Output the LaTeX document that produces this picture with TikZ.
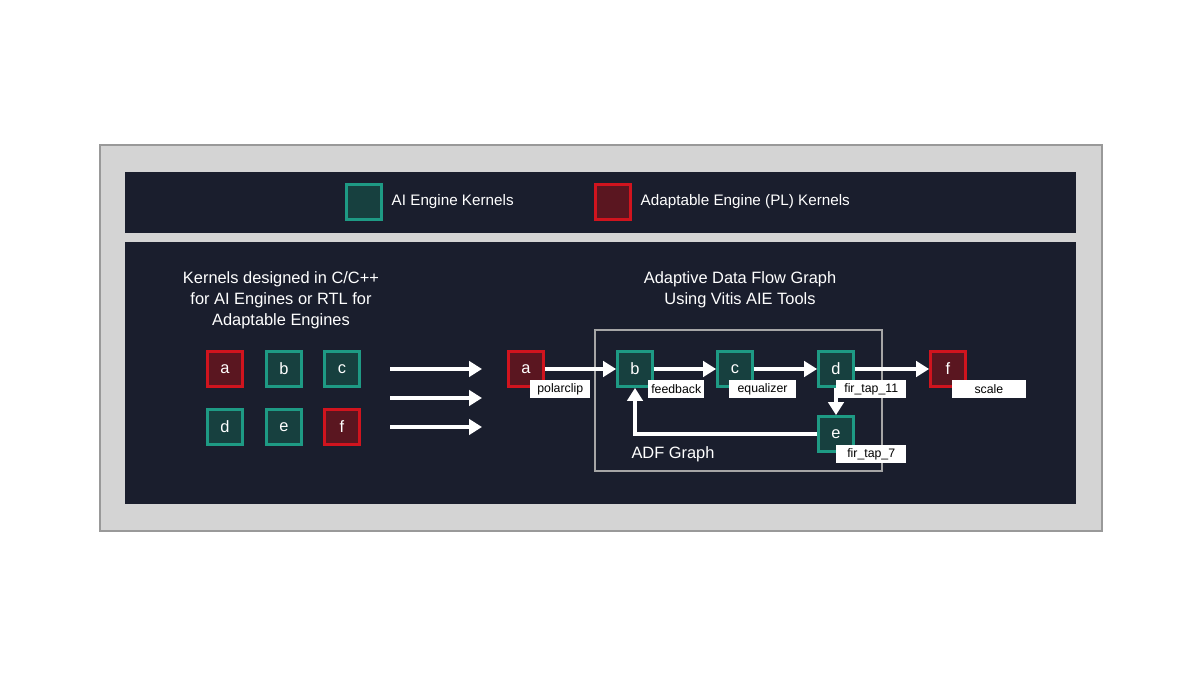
\documentclass[tikz,border=0pt]{standalone}
\usepackage{fontspec}
\setmainfont{Liberation Sans}
\usepackage{xcolor}
\usetikzlibrary{arrows.meta, positioning, calc}
\definecolor{panel}{HTML}{1A1E2D}
\definecolor{frame}{HTML}{D4D4D4}
\definecolor{aiefill}{HTML}{17403F}
\definecolor{aieline}{HTML}{1E9A84}
\definecolor{plfill}{HTML}{5A1620}
\definecolor{plline}{HTML}{D0141E}
\tikzset{
  aie/.style={draw=aieline, fill=aiefill, line width=2.4pt, minimum size=1.05cm, inner sep=0pt, text=white, font=\fontsize{14}{14}\selectfont},
  pl/.style={aie, draw=plline, fill=plfill},
  tag/.style={fill=white, anchor=north west, inner sep=1pt, minimum height=0.54cm, font=\fontsize{10.5}{11}\selectfont},
  arrow/.style={draw=white, line width=3.4pt, -{Triangle[length=11pt, width=13pt]}},
  title/.style={text=white, align=center, font=\fontsize{14}{18}\selectfont}
}
\begin{document}
\begin{tikzpicture}[x=0.3mm, y=-0.3mm]
\useasboundingbox (0,0) rectangle (1200,675);
\fill[white] (0,0) rectangle (1200,675);

% Frame and panels
\draw[fill=frame, draw=gray!80, line width=1.5pt] (100,145) rectangle (1102,531);
\fill[panel] (125,172) rectangle (1076,233);
\fill[panel] (125,242) rectangle (1076,504);

% Legend
\node[aie, label={[text=white, font=\fontsize{13}{13}\selectfont, anchor=west, xshift=4pt]east:AI Engine Kernels}] (keyaie) at (364,202) {};
\node[pl, label={[text=white, font=\fontsize{13}{13}\selectfont, anchor=west, xshift=4pt]east:Adaptable Engine (PL) Kernels}] (keypl) at (613,202) {};

% Kernel sources
\node[title] (srctitle) at (281,300) {Kernels designed in C/C++\\for AI Engines or RTL for\\Adaptable Engines};
\node[pl] (ka) at (225,369) {a};
\node[aie] (kb) at (284,369) {b};
\node[aie] (kc) at (342,369) {c};
\node[aie] (kd) at (225,427) {d};
\node[aie] (ke) at (284,427) {e};
\node[pl] (kf) at (342,427) {f};

\foreach \yy in {369,398,427} {
  \coordinate (from\yy) at (390,\yy);
  \coordinate (to\yy) at (482,\yy);
  \draw[arrow] (from\yy) -- (to\yy);
}

% ADF graph
\node[title] (adftitle) at (740,290) {Adaptive Data Flow Graph\\Using Vitis AIE Tools};
\draw[draw=gray!70, line width=1.2pt] (595,330) rectangle (882,471);
\node[text=white, font=\fontsize{14}{14}\selectfont] (adflabel) at (673,454) {ADF Graph};

\node[pl] (a) at (526,369) {a};
\node[aie] (b) at (635,369) {b};
\node[aie] (c) at (735,369) {c};
\node[aie] (d) at (836,369) {d};
\node[pl] (f) at (948,369) {f};
\node[aie] (e) at (836,434) {e};

\node[tag, minimum width=1.8cm] (tagA) at ($(a.center)+(4,11)$) {polarclip};
\node[tag, minimum width=1.68cm] (tagB) at ($(b.center)+(13,11)$) {feedback};
\node[tag, minimum width=2.0cm] (tagC) at ($(c.center)+(-6,11)$) {equalizer};
\node[tag, minimum width=2.1cm] (tagD) at ($(d.center)+(0,11)$) {fir\_tap\_11};
\node[tag, minimum width=2.2cm] (tagF) at ($(f.center)+(4,11)$) {scale};
\node[tag, minimum width=2.1cm] (tagE) at ($(e.center)+(0,11)$) {fir\_tap\_7};

\draw[arrow] (a) -- (b);
\draw[arrow] (b) -- (c);
\draw[arrow] (c) -- (d);
\draw[arrow] (d) -- (f);
\draw[arrow] (d) -- (e);
\draw[arrow] (e.west) -| (b.south);
\end{tikzpicture}
\end{document}
